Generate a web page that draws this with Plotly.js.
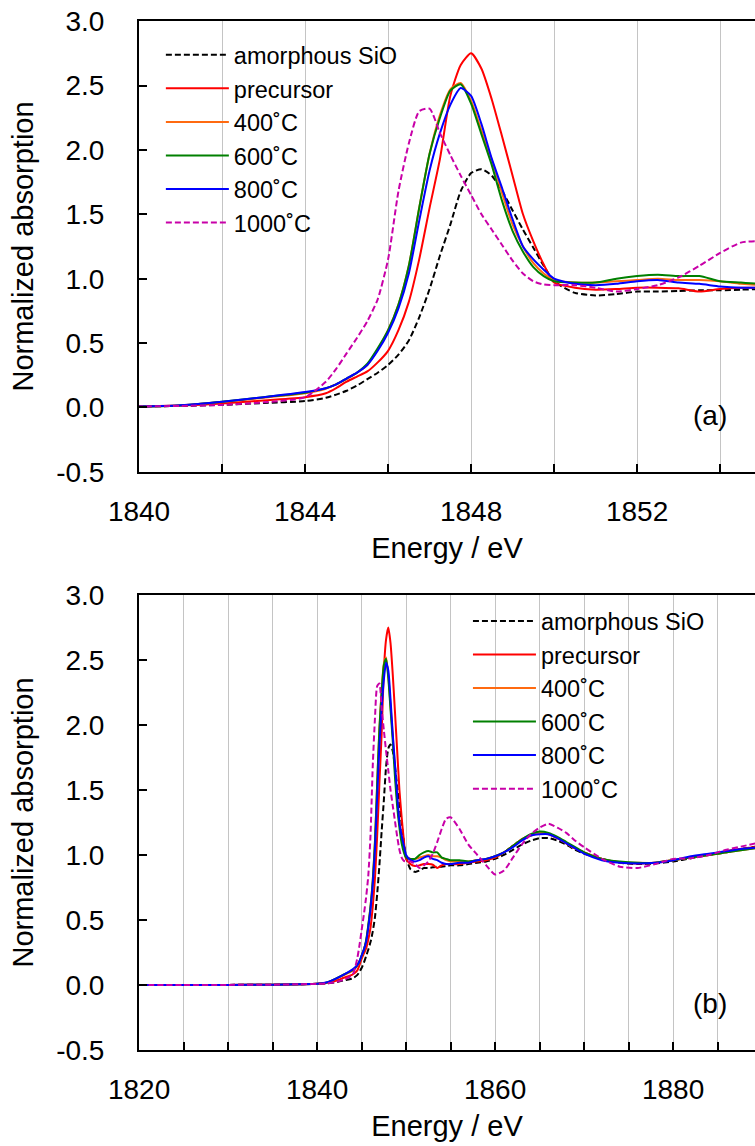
<!DOCTYPE html>
<html>
<head>
<meta charset="utf-8">
<script src="https://cdn.plot.ly/plotly-3.0.1.min.js"></script>
<style>
html,body{margin:0;padding:0;background:#fff;overflow:hidden;}
#chart{width:755px;height:1146px;}
</style>
</head>
<body>
<div id="chart"></div>
<script>
// Photon energy grid (eV)
const energy = [1820,1825,1830,1835,1838,1840,1841,1842,1843,1844,
  1844.5,1844.75,1845,1845.25,1845.5,1845.75,1846,1846.25,1846.5,1846.75,1847,1847.25,1847.5,1847.75,1848,1848.25,1848.5,1848.75,1849,1849.25,1849.5,1849.75,1850,
  1850.5,1851,1851.5,1852,1852.5,1853,1853.5,1854,1854.5,1855,
  1856,1857,1858,1859,1860,1861,1862,1863,1864,1865,1866,1867,1868,1869,1870,
  1872,1874,1876,1878,1880,1882,1884,1886,1888,1890];

const amorphousSiO = [0,0,0,0.002,0.005,0.008,0.012,0.02,0.035,0.05,
  0.075,0.1,0.13,0.17,0.22,0.27,0.33,0.41,0.52,0.7,0.92,1.18,1.42,1.68,1.82,1.85,1.8,1.68,1.53,1.38,1.24,1.1,0.98,
  0.89,0.87,0.88,0.9,0.9,0.905,0.91,0.91,0.915,0.92,
  0.92,0.93,0.94,0.95,0.97,1.0,1.04,1.08,1.11,1.13,1.13,1.11,1.08,1.04,1.01,
  0.97,0.94,0.93,0.935,0.95,0.975,1.0,1.02,1.05,1.07];

const precursor = [0,0,0,0.002,0.005,0.008,0.015,0.03,0.055,0.08,
  0.11,0.15,0.2,0.24,0.28,0.35,0.44,0.6,0.82,1.15,1.55,1.93,2.42,2.66,2.75,2.63,2.39,2.1,1.8,1.5,1.29,1.11,0.97,
  0.93,0.915,0.92,0.93,0.93,0.925,0.9,0.92,0.93,0.93,
  0.93,0.94,0.95,0.96,0.98,1.02,1.07,1.12,1.15,1.17,1.16,1.13,1.09,1.05,1.02,
  0.97,0.945,0.935,0.94,0.96,0.98,1.0,1.03,1.05,1.07];

const t400 = [0,0,0,0.002,0.005,0.008,0.015,0.043,0.075,0.11,
  0.145,0.18,0.22,0.27,0.33,0.45,0.6,0.8,1.1,1.55,1.97,2.27,2.47,2.52,2.38,2.15,1.92,1.66,1.42,1.25,1.12,1.04,0.99,
  0.97,0.97,0.98,0.99,1.0,0.99,0.99,0.98,0.96,0.95,
  0.95,0.95,0.96,0.97,0.99,1.02,1.07,1.12,1.15,1.17,1.16,1.13,1.09,1.05,1.02,
  0.97,0.945,0.94,0.94,0.96,0.98,1.0,1.02,1.04,1.06];

const t600 = [0,0,0,0.002,0.005,0.008,0.016,0.045,0.08,0.115,
  0.15,0.18,0.225,0.27,0.34,0.46,0.6,0.8,1.1,1.55,1.97,2.25,2.46,2.51,2.36,2.12,1.88,1.6,1.37,1.21,1.09,1.02,0.98,
  0.97,0.97,1.0,1.02,1.03,1.02,1.02,0.98,0.97,0.96,
  0.96,0.95,0.96,0.97,0.99,1.02,1.07,1.12,1.16,1.18,1.17,1.14,1.1,1.06,1.02,
  0.97,0.95,0.94,0.94,0.96,0.98,1.0,1.02,1.04,1.06];

const t800 = [0,0,0,0.002,0.005,0.008,0.018,0.045,0.08,0.12,
  0.15,0.18,0.225,0.27,0.33,0.44,0.58,0.77,1.04,1.45,1.84,2.13,2.35,2.48,2.42,2.2,1.93,1.7,1.46,1.25,1.15,1.07,1.0,
  0.96,0.95,0.96,0.98,0.99,0.97,0.96,0.94,0.93,0.93,
  0.94,0.94,0.96,0.97,0.99,1.02,1.06,1.11,1.15,1.16,1.16,1.13,1.09,1.05,1.01,
  0.96,0.94,0.935,0.94,0.96,0.99,1.01,1.03,1.05,1.06];

const t1000 = [0,0,0,0.002,0.005,0.008,0.012,0.02,0.04,0.08,
  0.2,0.3,0.42,0.54,0.67,0.84,1.15,1.68,2.05,2.3,2.32,2.13,1.96,1.8,1.65,1.5,1.38,1.26,1.14,1.04,0.98,0.955,0.95,
  0.95,0.93,0.9,0.92,0.95,1.01,1.1,1.2,1.28,1.29,
  1.2,1.08,1.0,0.92,0.85,0.88,0.98,1.08,1.16,1.21,1.24,1.21,1.17,1.11,1.06,
  0.97,0.91,0.9,0.93,0.97,0.975,1.0,1.04,1.07,1.1];

const seriesNames = ['amorphous SiO','precursor','400˚C','600˚C','800˚C','1000˚C'];
const seriesData = [amorphousSiO, precursor, t400, t600, t800, t1000];
const seriesColors = ['#000000','#ff0000','#ff6a10','#008000','#0000ff','#c800a8'];
const seriesDash = ['6px,3px','solid','solid','solid','solid','6px,3px'];

// Axis ticks
const topXTicks = [1840,1844,1848,1852];
const botXTicks = [1820,1840,1860,1880];
const yTicks = [-0.5,0,0.5,1,1.5,2,2.5,3];
const yTickText = ['-0.5','0.0','0.5','1.0','1.5','2.0','2.5','3.0'];

const FONT = 'Liberation Sans, Arial, sans-serif';
const GRID = '#c4c4c4';

const traces = [];
seriesData.forEach((ys, i) => {
  const line = {color: seriesColors[i], width: 2, dash: seriesDash[i], shape: 'spline', smoothing: 0.6};
  traces.push({x: energy, y: ys, name: seriesNames[i], type: 'scatter', mode: 'lines',
    line: line, xaxis: 'x', yaxis: 'y', legend: 'legend'});
  traces.push({x: energy, y: ys, name: seriesNames[i], type: 'scatter', mode: 'lines',
    line: line, xaxis: 'x2', yaxis: 'y2', legend: 'legend2'});
});

function xAxis(range, tickvals, minorDt, minor0, anchor) {
  return {
    domain: [0, 1], anchor: anchor, range: range,
    tickmode: 'array', tickvals: tickvals, ticktext: tickvals.map(String),
    ticks: 'inside', ticklen: 8, tickwidth: 2, tickcolor: '#000',
    showline: true, linewidth: 2, linecolor: '#000', mirror: true,
    showgrid: true, gridcolor: GRID, gridwidth: 1.3, zeroline: false,
    minor: {tickmode: 'linear', tick0: minor0, dtick: minorDt, ticks: 'inside', ticklen: 8, tickwidth: 2,
            tickcolor: '#000', showgrid: true, gridcolor: GRID, gridwidth: 1.3},
    tickfont: {size: 28, family: FONT, color: '#000'},
    ticklabelstandoff: 13,
    title: {text: 'Energy / eV', font: {size: 29, family: FONT, color: '#000'}, standoff: 12}
  };
}
function yAxis(domain, anchor) {
  return {
    domain: domain, anchor: anchor, range: [-0.501, 3.001],
    tickmode: 'array', tickvals: yTicks, ticktext: yTickText,
    ticks: 'inside', ticklen: 8, tickwidth: 2, tickcolor: '#000',
    showline: true, linewidth: 2, linecolor: '#000', mirror: false,
    showgrid: false, zeroline: false,
    tickfont: {size: 28, family: FONT, color: '#000'},
    ticklabelstandoff: 27,
    title: {text: 'Normalized absorption', font: {size: 29, family: FONT, color: '#000'}, standoff: 14}
  };
}
const legendBase = {
  xanchor: 'left', yanchor: 'top', bgcolor: 'rgba(0,0,0,0)', borderwidth: 0,
  font: {size: 23.5, family: FONT, color: '#000'}, itemwidth: 63, tracegroupgap: 0
};

const layout = {
  width: 755, height: 1146,
  margin: {l: 139, r: 0, t: 0, b: 0},
  paper_bgcolor: '#fff', plot_bgcolor: '#fff',
  font: {family: FONT, color: '#000'},
  showlegend: true,
  xaxis: xAxis([1839.999, 1854.84], topXTicks, 2, 1840, 'y'),
  yaxis: yAxis([0.58813, 0.98168], 'x'),
  xaxis2: xAxis([1819.99, 1889.2], botXTicks, 5, 1820, 'y2'),
  yaxis2: yAxis([0.08377, 0.48080], 'x2'),
  legend: Object.assign({x: 0.0355, y: 0.9712}, legendBase),
  legend2: Object.assign({x: 0.534, y: 0.4772}, legendBase),
  annotations: [
    {text: '(a)', xref: 'paper', yref: 'paper', x: 0.927, y: 0.637, xanchor: 'center', yanchor: 'middle',
     showarrow: false, font: {size: 28, family: FONT, color: '#000'}},
    {text: '(b)', xref: 'paper', yref: 'paper', x: 0.927, y: 0.1245, xanchor: 'center', yanchor: 'middle',
     showarrow: false, font: {size: 28, family: FONT, color: '#000'}}
  ]
};

Plotly.newPlot('chart', traces, layout, {displayModeBar: false, responsive: false});
</script>
</body>
</html>
